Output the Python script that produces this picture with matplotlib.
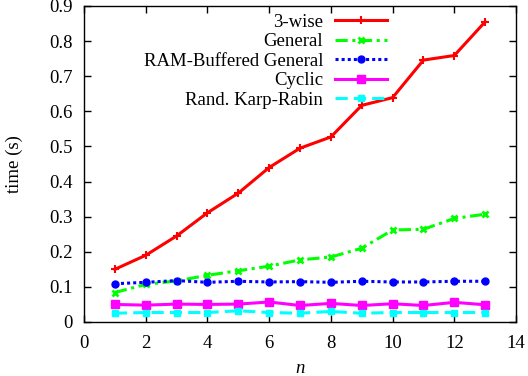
import matplotlib
matplotlib.use("Agg")
import matplotlib.pyplot as plt

n = list(range(1, 14))
three_wise = [0.150, 0.190, 0.245, 0.311, 0.367, 0.440, 0.495, 0.527, 0.617, 0.639, 0.746, 0.759, 0.855]
general = [0.084, 0.107, 0.117, 0.133, 0.146, 0.159, 0.177, 0.185, 0.210, 0.262, 0.264, 0.295, 0.307]
ram_general = [0.109, 0.113, 0.118, 0.113, 0.116, 0.114, 0.115, 0.113, 0.116, 0.114, 0.114, 0.116, 0.116]
cyclic = [0.050, 0.048, 0.051, 0.050, 0.051, 0.057, 0.047, 0.053, 0.047, 0.052, 0.047, 0.056, 0.049]
karp_rabin = [0.025, 0.027, 0.027, 0.027, 0.032, 0.027, 0.025, 0.030, 0.025, 0.027, 0.027, 0.027, 0.027]

labels = ["3-wise", "General", "RAM-Buffered General", "Cyclic", "Rand. Karp-Rabin"]
xticks = list(range(0, 15, 2))
yticks = [0, 0.1, 0.2, 0.3, 0.4, 0.5, 0.6, 0.7, 0.8, 0.9]

plt.rcParams['font.family'] = ['Liberation Serif', 'DejaVu Serif']

fig = plt.figure(figsize=(5.28, 3.76), dpi=100)
ax = fig.add_axes([84/528, 54/376, 432/528, 316/376])

ax.plot(n, three_wise, color='#ff0000', lw=2.2, ls='-', marker='+', ms=6, mew=1.5, label=labels[0])
ax.plot(n, general, color='#00ff00', lw=2.2, ls=(0, (4, 1.5, 1, 1.5)), marker='x', ms=5, mew=2, label=labels[1])
ax.plot(n, ram_general, color='#0000ff', lw=2.2, ls=(0, (1, 1)), marker='o', ms=5, label=labels[2])
ax.plot(n, cyclic, color='#ff00ff', lw=2.2, ls='-', marker='s', ms=6, label=labels[3])
ax.plot(n, karp_rabin, color='#00ffff', lw=2.2, ls=(0, (4, 2)), marker='s', ms=4, label=labels[4])

ax.set_xlim(0, 14)
ax.set_ylim(0, 0.9)
ax.set_xticks(xticks)
ax.set_yticks(yticks)
ax.set_yticklabels(["0" if v == 0 else f"{v:.1f}" for v in yticks])
ax.tick_params(direction='in', top=True, right=True, labelsize=13.5, length=5, width=1)
ax.tick_params(axis='y', pad=8)
ax.tick_params(axis='x', pad=9)
for s in ax.spines.values():
    s.set_linewidth(1)

ax.set_xlabel("n", fontsize=13.5, style='italic', labelpad=6)
ax.set_ylabel("time (s)", fontsize=13.5, labelpad=19)

leg = ax.legend(loc='upper right', bbox_to_anchor=(303/432, 0.975), frameon=False, markerfirst=False,
                fontsize=13.5, handlelength=2.8, labelspacing=0.12, handletextpad=0.6, borderaxespad=0,
                borderpad=0)
for t in leg.get_texts():
    t.set_ha('right')

fig.savefig("out.png", dpi=100)
